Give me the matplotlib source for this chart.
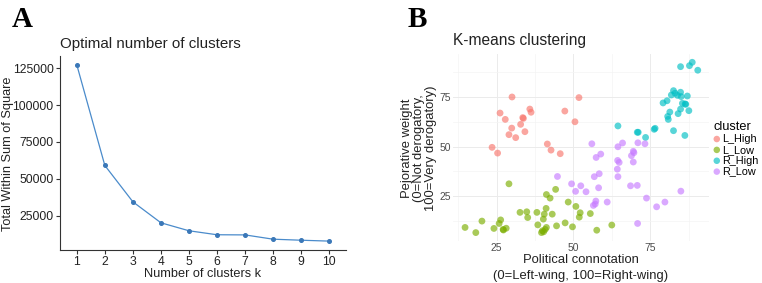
import matplotlib
matplotlib.use("Agg")
import matplotlib.pyplot as plt
import numpy as np

plt.rcParams['font.family'] = ['Liberation Sans', 'DejaVu Sans']

# Panel A data
k_values = [1, 2, 3, 4, 5, 6, 7, 8, 9, 10]
wss = [127200, 59100, 34500, 20300, 14900, 12200, 12100, 9200, 8500, 7900]

# Panel B data
l_high_x = [30.0, 51.8, 26.1, 27.8, 29.9, 29.0, 31.2, 32.8, 33.5, 33.7, 35.8, 36.2, 34.2, 47.2, 50.5, 23.5, 25.3, 41.5, 42.7, 45.7]
l_high_y = [75.0, 74.7, 66.9, 63.7, 59.3, 56.0, 54.5, 61.2, 64.6, 64.2, 68.9, 67.3, 57.5, 67.9, 62.5, 49.6, 46.7, 51.3, 48.2, 46.4]

l_low_x = [29.0, 41.2, 44.2, 42.4, 48.3, 50.8, 32.6, 34.8, 35.1, 38.1, 41.1, 43.1, 40.5, 40.2, 52.2, 51.9, 55.5,
           26.3, 20.2, 25.8, 47.3, 38.4, 44.5, 49.7, 62.5, 14.7, 18.2, 24.1, 27.1, 28.1, 27.2,
           41.2, 40.8, 39.9, 40.3, 39.6, 57.6]
l_low_y = [31.2, 25.8, 28.4, 24.0, 22.0, 19.8, 16.8, 17.1, 14.2, 16.8, 18.8, 15.9, 15.9, 13.4, 16.6, 14.4, 16.2,
           13.0, 12.4, 11.2, 11.5, 10.5, 10.0, 9.5, 10.4, 9.2, 6.6, 8.7, 8.2, 8.8, 7.9,
           9.2, 8.2, 7.5, 7.0, 6.6, 7.8]

r_high_x = [84.9, 88.7, 87.8, 90.5, 82.6, 83.1, 81.9, 80.5, 79.2, 84.9, 85.1, 83.9, 87.1, 86.4, 86.6, 85.5,
            84.9, 84.1, 87.6, 81.4, 80.7, 80.9, 82.6, 86.3, 76.6, 76.3, 73.5, 71.1, 70.8, 64.5]
r_high_y = [90.3, 92.5, 90.8, 88.5, 78.2, 76.9, 76.0, 73.1, 72.0, 77.4, 75.2, 75.8, 75.5, 71.5, 71.3, 71.8,
            68.9, 66.6, 68.1, 67.4, 65.2, 63.7, 58.0, 55.6, 59.2, 58.7, 54.6, 57.2, 57.2, 60.4]

r_low_x = [56.0, 58.9, 57.4, 66.0, 64.5, 71.0, 73.3, 64.4, 64.9, 68.9, 69.5, 69.7, 69.5, 64.3, 64.5, 44.8,
           49.4, 52.4, 50.7, 54.1, 56.8, 58.4, 58.2, 68.6, 70.8, 73.8, 57.3, 57.1, 56.5, 61.0, 77.1, 79.8,
           85.0, 70.9]
r_low_y = [51.4, 46.2, 44.5, 51.8, 49.9, 51.9, 51.4, 43.0, 42.0, 45.4, 47.6, 46.9, 42.2, 38.6, 34.8, 34.9,
           31.2, 30.2, 27.4, 27.2, 34.8, 36.3, 29.2, 30.2, 30.4, 24.0, 22.5, 21.0, 20.3, 22.0, 19.6, 22.0,
           27.5, 11.2]

clusters = ["L_High", "L_Low", "R_High", "R_Low"]
cluster_colors = ["#F8766D", "#7CAE00", "#00BFC4", "#C77CFF"]

W, H = 762, 283
fig = plt.figure(figsize=(W / 100, H / 100), dpi=100)

# ---------- Panel A ----------
axA = fig.add_axes([0.0787, 0.1166, 0.3753, 0.6855])
axA.plot(k_values, wss, color="#4A8BCB", lw=0.9, marker="o", ms=2.6, mfc="#3B78B8", mec="#3B78B8")
axA.set_xlim(0.4, 10.6)
axA.set_ylim(1880, 133170)
axA.set_xticks(k_values)
axA.set_yticks([25000, 50000, 75000, 100000, 125000])
axA.set_yticklabels(["25000", "50000", "75000", "100000", "125000"])
for s in ["top", "right"]:
    axA.spines[s].set_visible(False)
for s in ["left", "bottom"]:
    axA.spines[s].set_color("#333333")
    axA.spines[s].set_linewidth(0.8)
axA.tick_params(labelsize=8.8, colors="#333333", labelcolor="#222222", length=3, width=0.8, pad=1.5)
axA.set_xlabel("Number of clusters k", fontsize=9.2, color="#222222", labelpad=0)
fig.text(8.5 / W, 1 - 154 / H, "Total Within Sum of Square", rotation=90, ha="center", va="center",
         fontsize=9.2, color="#222222")
axA.set_title("Optimal number of clusters", fontsize=10.9, loc="left", pad=6, color="#222222")

fig.text(0.016, 0.905, "A", fontsize=21, fontweight="bold", family="Liberation Serif")

# ---------- Panel B ----------
axB = fig.add_axes([0.595, 0.148, 0.336, 0.662])
series = [(l_high_x, l_high_y), (l_low_x, l_low_y), (r_high_x, r_high_y), (r_low_x, r_low_y)]
handles = []
for (xs, ys), name, col in zip(series, clusters, cluster_colors):
    h = axB.scatter(xs, ys, s=24, color=col, alpha=0.65, edgecolors="none", label=name)
    handles.append(h)
axB.set_xlim(10.9, 94.3)
axB.set_ylim(2.3, 96.8)
axB.set_xticks([25, 50, 75])
axB.set_yticks([25, 50, 75])
axB.set_xticks([12.5, 37.5, 62.5, 87.5], minor=True)
axB.set_yticks([12.5, 37.5, 62.5, 87.5], minor=True)
axB.grid(True, which="major", color="#EBEBEB", lw=0.7)
axB.grid(True, which="minor", color="#F4F4F4", lw=0.5)
axB.set_axisbelow(True)
for s in axB.spines.values():
    s.set_visible(False)
axB.tick_params(which="both", length=0, labelsize=7.4, labelcolor="#4D4D4D", pad=1.5)
fig.text(581 / W, 1 - 260 / H, "Political connotation", ha="center", va="center", fontsize=9.4, color="#222222")
fig.text(581 / W, 1 - 276 / H, "(0=Left-wing, 100=Right-wing)", ha="center", va="center", fontsize=9.4,
         color="#222222")
fig.text(419 / W, 1 - 148 / H, "Pejorative weight\n(0=Not derogatory,\n100=Very derogatory)", rotation=90,
         ha="center", va="center", fontsize=9.4, color="#222222", linespacing=0.98, multialignment="center")
axB.set_title("K-means clustering", fontsize=11.2, loc="left", pad=6, color="#222222")
leg = fig.legend(handles=handles, labels=clusters, title="cluster", loc="upper left",
                 bbox_to_anchor=(713 / W, 1 - 121 / H), frameon=False,
                 fontsize=7.8, title_fontsize=9.2, handletextpad=0.1, handlelength=0.7,
                 labelspacing=0.08, borderpad=0, borderaxespad=0, alignment="left")
for h in leg.legend_handles:
    h.set_alpha(0.65)
    h.set_sizes([22])

fig.text(0.535, 0.905, "B", fontsize=21, fontweight="bold", family="Liberation Serif")

fig.savefig("out.png", dpi=100)
